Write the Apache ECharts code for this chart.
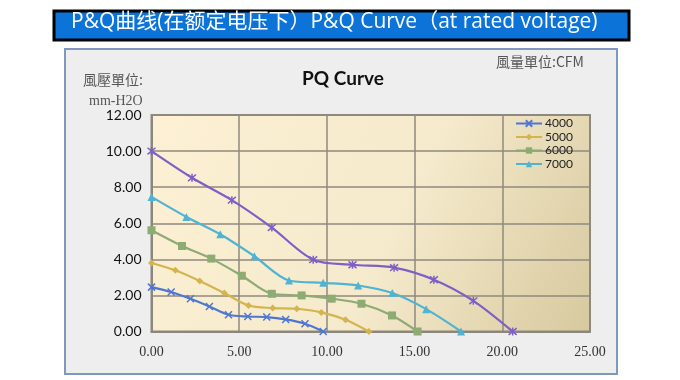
<!DOCTYPE html>
<html>
<head>
<meta charset="utf-8">
<script src="https://cdn.jsdelivr.net/npm/echarts@6/dist/echarts.min.js"></script>
<style>html,body{margin:0;padding:0;background:#fff;}#c{width:680px;height:380px;}</style>
</head>
<body>
<div id="c"></div>
<script>
// ---- data (flow in CFM, pressure in mm-H2O) ----
const seriesNames = ["4000", "5000", "6000", "7000", "8000"];
const legendNames = ["4000", "5000", "6000", "7000"];
const xTicks = [0, 5, 10, 15, 20, 25];
const yTicks = [0, 2, 4, 6, 8, 10, 12];

const flow4000 = [0, 1.12, 2.22, 3.30, 4.39, 5.49, 6.57, 7.65, 8.75, 9.79];
const pres4000 = [2.46, 2.19, 1.81, 1.39, 0.93, 0.83, 0.80, 0.67, 0.43, 0];

const flow5000 = [0, 1.36, 2.75, 4.15, 5.53, 6.91, 8.28, 9.68, 11.06, 12.39];
const pres5000 = [3.80, 3.39, 2.80, 2.13, 1.44, 1.30, 1.26, 1.06, 0.65, 0];

const flow6000 = [0, 1.74, 3.41, 5.15, 6.86, 8.56, 10.27, 11.97, 13.71, 15.17];
const pres6000 = [5.61, 4.74, 4.04, 3.09, 2.09, 2.00, 1.82, 1.54, 0.89, 0];

const flow7000 = [0, 1.99, 3.92, 5.87, 7.84, 9.79, 11.78, 13.73, 15.66, 17.65];
const pres7000 = [7.46, 6.35, 5.39, 4.17, 2.83, 2.70, 2.55, 2.13, 1.24, 0];

const flow8000 = [0, 2.31, 4.58, 6.86, 9.22, 11.46, 13.83, 16.10, 18.35, 20.59];
const pres8000 = [10.00, 8.52, 7.28, 5.76, 3.98, 3.70, 3.54, 2.87, 1.70, 0];

const flows = [flow4000, flow5000, flow6000, flow7000, flow8000];
const pressures = [pres4000, pres5000, pres6000, pres7000, pres8000];

// ---- styles ----
const colors = ["#4f77d2", "#d3b44f", "#8dab72", "#4fb3d3", "#7d5fc6"];
const symbols = [
  "path://M0,0L10,10M10,0L0,10",
  "diamond",
  "rect",
  "triangle",
  "path://M0,0L10,10M10,0L0,10M5,-1L5,11"
];
const symbolSizes = [7, 7, 8, 8, 8];

const chart = echarts.init(document.getElementById('c'), null, {renderer: 'canvas'});

const series = seriesNames.map((name, i) => ({
  name: name,
  type: 'line',
  smooth: 0.3,
  data: flows[i].map((f, j) => [f, pressures[i][j]]),
  symbol: symbols[i],
  symbolSize: symbolSizes[i],
  showAllSymbol: true,
  lineStyle: {color: colors[i], width: 2.2},
  itemStyle: {color: colors[i], borderColor: colors[i], borderWidth: (i === 0 || i === 4) ? 1.5 : 0},
  emphasis: {disabled: true},
  z: 3
}));

chart.setOption({
  animation: false,
  backgroundColor: '#ffffff',
  graphic: [
    {type: 'rect', z: -10, silent: true,
     shape: {x: 65, y: 49, width: 552, height: 325},
     style: {fill: '#eeeeee', stroke: '#7f98bd', lineWidth: 2}},
    {type: 'rect', z: 1, silent: true,
     shape: {x: 54, y: 11, width: 575, height: 29},
     style: {fill: '#0c74d8', stroke: '#000000', lineWidth: 3}},
    {type: 'text', z: 2, silent: true, left: 71, top: 12,
     style: {text: 'P&Q曲线(在额定电压下）P&Q Curve（at rated voltage)', fill: '#ffffff',
             font: '21px "Open Sans", "Noto Sans CJK SC", sans-serif'}},
    {type: 'text', z: 2, silent: true, left: 302, top: 69,
     style: {text: 'PQ Curve', fill: '#111111', font: 'bold 19px Lato, "Open Sans", sans-serif'}},
    {type: 'text', z: 2, silent: true, left: 83, top: 73,
     style: {text: '風壓單位:', fill: '#555555', font: '14px "Noto Sans CJK TC", serif'}},
    {type: 'text', z: 2, silent: true, left: 89, top: 94,
     style: {text: 'mm-H2O', fill: '#555555', font: '14px "Liberation Serif", serif'}},
    {type: 'text', z: 2, silent: true, left: 496, top: 55,
     style: {text: '風量單位:CFM', fill: '#555555', font: '14px "Noto Sans CJK TC", serif'}}
  ],
  grid: {
    left: 151.5, top: 115, right: 90, bottom: 48.5,
    show: true,
    backgroundColor: new echarts.graphic.LinearGradient(0, 0, 1, 1, [
      {offset: 0, color: '#fdf0d4'},
      {offset: 0.55, color: '#f5eacc'},
      {offset: 1, color: '#d7c99e'}
    ]),
    borderColor: '#8c877c',
    borderWidth: 2
  },
  legend: {
    data: legendNames,
    orient: 'vertical',
    left: 515,
    top: 117,
    padding: 0,
    itemWidth: 26,
    itemHeight: 8,
    itemGap: 0.5,
    textStyle: {fontSize: 12, lineHeight: 13, color: '#222', fontFamily: 'Lato, sans-serif', padding: [0, 0, 0, -2]},
    selectedMode: false
  },
  xAxis: {
    type: 'value',
    min: xTicks[0], max: xTicks[xTicks.length - 1], interval: 5,
    axisLine: {show: true, lineStyle: {color: '#8c877c', width: 2}},
    axisTick: {show: false},
    splitLine: {show: true, lineStyle: {color: '#8f8a7f', width: 1.5}},
    axisLabel: {
      margin: 14, fontSize: 14, color: '#333',
      fontFamily: '"Liberation Serif", serif',
      formatter: v => v.toFixed(2)
    }
  },
  yAxis: {
    type: 'value',
    min: yTicks[0], max: yTicks[yTicks.length - 1], interval: 2,
    axisLine: {show: true, lineStyle: {color: '#8c877c', width: 2}},
    axisTick: {show: false},
    splitLine: {show: true, lineStyle: {color: '#8f8a7f', width: 1.5}},
    axisLabel: {
      margin: 10, fontSize: 14, color: '#111',
      fontFamily: 'Lato, "Open Sans", sans-serif',
      formatter: v => v.toFixed(2)
    }
  },
  series: series
});
</script>
</body>
</html>
